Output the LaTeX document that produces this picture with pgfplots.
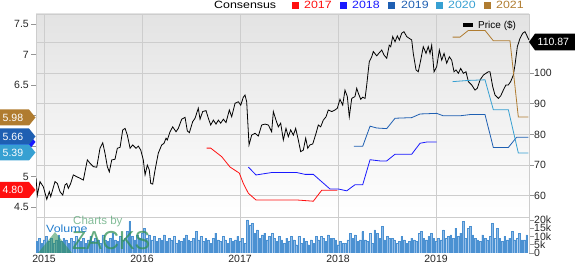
\documentclass[border=0pt]{standalone}
\usepackage{fontspec}
\setmainfont{Liberation Sans}
\newfontfamily\wideFont[FakeStretch=1.18]{Liberation Sans}
\newfontfamily\narrowFont[FakeStretch=0.9]{Liberation Sans}
\usepackage{pgfplots}
\pgfplotsset{compat=1.18}
\definecolor{c2017}{RGB}{255,15,15}
\definecolor{c2018}{RGB}{25,25,255}
\definecolor{c2019}{RGB}{30,95,178}
\definecolor{c2020}{RGB}{55,160,210}
\definecolor{c2021}{RGB}{176,124,48}
\definecolor{gridc}{RGB}{205,205,205}
\definecolor{tickc}{RGB}{150,150,150}
\definecolor{volfill}{RGB}{145,188,232}
\definecolor{voldraw}{RGB}{75,145,210}
\definecolor{zgreen}{RGB}{50,145,85}
\definecolor{volblue}{RGB}{35,125,205}
\newcommand{\tl}{\fontsize{10.5}{12}\selectfont}
\begin{document}
\begin{tikzpicture}
\useasboundingbox (0pt,0pt) rectangle (575pt,264pt);
% ---------------- volume panel
\begin{axis}[
  at={(36pt,11pt)}, anchor=south west, scale only axis,
  width=493pt, height=35pt,
  xmin=2014.918, xmax=2019.949, ymin=0, ymax=21.2,
  xtick={2015,2016,2017,2018,2019},
  xticklabels={2015,2016,2017,2018,2019},
  xmajorgrids, grid style={gridc, line width=0.9pt},
  x tick style={draw=none},
  ytick={0,5,10,15,20}, yticklabels={0,5k,10k,15k,20k},
  ytick pos=right, yticklabel pos=right,
  tick align=outside, major tick length=5pt,
  y tick style={tickc, line width=0.8pt},
  separate axis lines,
  x axis line style={draw=none},
  y axis line style={gridc, line width=0.9pt},
  xticklabel style={font=\tl, text=black!85, inner sep=0pt, yshift=3.5pt},
  yticklabel style={font=\tl, text=black!85, inner sep=0pt, anchor=west},
]
\addplot[ybar, bar width=1.7pt, fill=volfill, draw=voldraw, line width=0.3pt] coordinates {
(2014.925,7) (2014.950,9) (2014.975,6)
(2015.000,8) (2015.025,10) (2015.050,7) (2015.075,9) (2015.100,6) (2015.125,8) (2015.150,11) (2015.175,7) (2015.200,9) (2015.225,8)
(2015.250,6) (2015.275,9) (2015.300,7) (2015.325,10) (2015.350,8) (2015.375,7) (2015.400,9) (2015.425,6) (2015.450,8) (2015.475,10)
(2015.500,7) (2015.525,9) (2015.550,8) (2015.575,6) (2015.600,11) (2015.625,8) (2015.650,7) (2015.675,9) (2015.700,12) (2015.725,8)
(2015.750,7) (2015.775,10) (2015.800,8) (2015.825,9) (2015.850,13) (2015.875,19) (2015.900,10) (2015.925,8) (2015.950,11) (2015.975,9)
(2016.000,12) (2016.025,15) (2016.050,9) (2016.075,11) (2016.100,8) (2016.125,10) (2016.150,7) (2016.175,9) (2016.200,8) (2016.225,11)
(2016.250,7) (2016.275,9) (2016.300,8) (2016.325,10) (2016.350,6) (2016.375,8) (2016.400,7) (2016.425,9) (2016.450,11) (2016.475,8)
(2016.500,7) (2016.525,9) (2016.550,13) (2016.575,8) (2016.600,10) (2016.625,7) (2016.650,9) (2016.675,8) (2016.700,6) (2016.725,9)
(2016.750,12) (2016.775,8) (2016.800,7) (2016.825,10) (2016.850,8) (2016.875,6) (2016.900,9) (2016.925,7) (2016.950,8) (2016.975,10)
(2017.000,7) (2017.025,9) (2017.050,6) (2017.075,20) (2017.100,17) (2017.125,18) (2017.150,12) (2017.175,14) (2017.200,9) (2017.225,11)
(2017.250,12) (2017.275,8) (2017.300,10) (2017.325,12) (2017.350,9) (2017.375,7) (2017.400,10) (2017.425,8) (2017.450,6) (2017.475,9)
(2017.500,7) (2017.525,10) (2017.550,8) (2017.575,5) (2017.600,10) (2017.625,6) (2017.650,9) (2017.675,7) (2017.700,5) (2017.725,8)
(2017.750,6) (2017.775,10) (2017.800,8) (2017.825,10) (2017.850,9) (2017.875,7) (2017.900,11) (2017.925,9) (2017.950,9) (2017.975,8)
(2018.000,5) (2018.025,7) (2018.050,6) (2018.075,6) (2018.100,8) (2018.125,12) (2018.150,9) (2018.175,11) (2018.200,7) (2018.225,8)
(2018.250,13) (2018.275,8) (2018.300,7) (2018.325,12) (2018.350,6) (2018.375,14) (2018.400,12) (2018.425,9) (2018.450,16) (2018.475,8)
(2018.500,10) (2018.525,9) (2018.550,9) (2018.575,8) (2018.600,6) (2018.625,7) (2018.650,10) (2018.675,8) (2018.700,6) (2018.725,7)
(2018.750,9) (2018.775,8) (2018.800,7) (2018.825,12) (2018.850,13) (2018.875,9) (2018.900,8) (2018.925,10) (2018.950,12) (2018.975,9)
(2019.000,7) (2019.025,9) (2019.050,8) (2019.075,14) (2019.100,9) (2019.125,10) (2019.150,11) (2019.175,9) (2019.200,15) (2019.225,10)
(2019.250,12) (2019.275,19) (2019.300,9) (2019.325,15) (2019.350,16) (2019.375,11) (2019.400,9) (2019.425,8) (2019.450,7) (2019.475,11)
(2019.500,9) (2019.525,8) (2019.550,10) (2019.575,18) (2019.600,9) (2019.625,15) (2019.650,9) (2019.675,7) (2019.700,10) (2019.725,8)
(2019.750,9) (2019.775,13) (2019.800,8) (2019.825,9) (2019.850,12) (2019.875,8) (2019.900,8) (2019.925,11)
};
\end{axis}
% ---------------- price panel (right axis)
\begin{axis}[
  at={(36pt,47pt)}, anchor=south west, scale only axis,
  width=493pt, height=203pt,
  xmin=2014.918, xmax=2019.949, ymin=53.04, ymax=119.38,
  xtick={2015,2016,2017,2018,2019}, xticklabels={}, x tick style={draw=none},
  ytick={60,70,80,90,100,110}, yticklabels={60,70,80,90,100,},
  ytick pos=right, yticklabel pos=right,
  tick align=outside, major tick length=5pt,
  y tick style={tickc, line width=0.8pt},
  grid=major, grid style={gridc, line width=0.9pt},
  axis line style={gridc, line width=0.9pt},
  axis background/.style={top color=black!11, middle color=black!2, bottom color=white},
  yticklabel style={font=\tl, text=black!85, inner sep=0pt, anchor=west},
]
\addplot[black, line width=0.8pt] coordinates {
(2014.918,65.7) (2014.932,60.2) (2014.959,64.6) (2014.993,62.9) (2015.028,58.8) (2015.054,61.3) (2015.068,59.7) (2015.112,64.6)
(2015.136,64.0) (2015.163,61.3) (2015.191,60.2) (2015.214,63.5) (2015.232,64.0) (2015.248,62.4) (2015.272,64.0) (2015.299,66.8)
(2015.334,66.2) (2015.367,65.7) (2015.401,65.1) (2015.442,71.7) (2015.469,70.6) (2015.503,69.5) (2015.538,69.3) (2015.571,75.5)
(2015.599,77.3) (2015.622,73.9) (2015.646,69.5) (2015.666,67.8) (2015.691,71.7) (2015.724,71.9) (2015.748,75.5) (2015.776,75.8)
(2015.803,81.5) (2015.827,82.0) (2015.850,79.8) (2015.878,75.5) (2015.905,76.6) (2015.939,75.5) (2015.962,76.2) (2015.987,74.9)
(2016.013,71.7) (2016.031,66.8) (2016.054,70.0) (2016.074,68.4) (2016.089,64.0) (2016.109,63.8) (2016.133,68.4) (2016.166,73.9)
(2016.201,76.6) (2016.224,77.1) (2016.245,78.8) (2016.258,78.2) (2016.286,80.9) (2016.313,82.5) (2016.347,80.9) (2016.370,82.0)
(2016.405,85.0) (2016.439,85.6) (2016.462,81.2) (2016.483,80.6) (2016.517,84.2) (2016.541,85.3) (2016.574,88.6) (2016.592,85.0)
(2016.619,87.5) (2016.653,87.8) (2016.677,85.3) (2016.701,83.1) (2016.728,84.7) (2016.755,83.4) (2016.779,84.7) (2016.803,83.7)
(2016.830,85.0) (2016.857,83.9) (2016.891,88.0) (2016.915,85.8) (2016.949,90.2) (2016.983,90.7) (2017.007,89.6) (2017.034,92.2)
(2017.051,92.9) (2017.068,90.7) (2017.092,76.6) (2017.119,79.8) (2017.153,80.4) (2017.187,79.5) (2017.221,83.1) (2017.255,83.4)
(2017.289,83.1) (2017.323,80.9) (2017.340,87.5) (2017.367,84.7) (2017.391,82.5) (2017.415,83.7) (2017.442,78.2) (2017.469,82.0)
(2017.493,79.3) (2017.517,81.5) (2017.544,79.8) (2017.568,82.0) (2017.595,78.2) (2017.619,74.4) (2017.646,74.9) (2017.670,78.8)
(2017.691,75.5) (2017.714,76.6) (2017.742,76.9) (2017.776,80.4) (2017.799,83.1) (2017.823,82.5) (2017.850,84.7) (2017.878,85.8)
(2017.901,88.0) (2017.936,87.5) (2017.969,88.0) (2017.993,88.6) (2018.020,91.5) (2018.048,89.6) (2018.071,94.5) (2018.095,92.4)
(2018.115,85.8) (2018.140,91.8) (2018.173,92.4) (2018.191,95.1) (2018.207,93.5) (2018.232,91.5) (2018.252,92.2) (2018.276,91.8)
(2018.293,96.2) (2018.319,103.8) (2018.344,105.4) (2018.360,107.1) (2018.395,105.7) (2018.421,106.7) (2018.446,107.6) (2018.469,106.0)
(2018.497,104.9) (2018.523,109.2) (2018.538,108.7) (2018.558,112.0) (2018.582,110.3) (2018.605,112.2) (2018.626,110.9) (2018.650,113.1)
(2018.673,113.6) (2018.701,112.0) (2018.728,111.4) (2018.752,110.9) (2018.768,106.5) (2018.796,101.1) (2018.819,100.5) (2018.844,104.3)
(2018.870,108.7) (2018.898,106.5) (2018.921,108.7) (2018.939,106.5) (2018.956,109.2) (2018.980,100.5) (2019.007,102.2) (2019.034,107.6)
(2019.058,104.3) (2019.082,106.5) (2019.109,103.3) (2019.136,105.4) (2019.160,104.3) (2019.184,100.5) (2019.204,101.1) (2019.228,100.0)
(2019.252,101.6) (2019.279,100.0) (2019.306,100.5) (2019.330,97.3) (2019.364,96.2) (2019.398,94.5) (2019.421,95.1) (2019.449,97.8)
(2019.483,99.4) (2019.510,100.0) (2019.534,100.5) (2019.551,100.5) (2019.579,95.6) (2019.602,92.9) (2019.636,91.8) (2019.660,92.6)
(2019.687,94.5) (2019.714,96.2) (2019.738,96.2) (2019.762,97.3) (2019.789,99.4) (2019.806,102.7) (2019.830,108.7) (2019.857,111.4)
(2019.885,113.1) (2019.908,113.6) (2019.932,112.0) (2019.949,110.9)
};
\end{axis}
% ---------------- consensus panel (left axis)
\begin{axis}[
  at={(36pt,47pt)}, anchor=south west, scale only axis,
  width=493pt, height=203pt,
  xmin=2014.918, xmax=2019.949, ymin=4.341, ymax=7.669,
  xtick=\empty,
  ytick={4.5,5,5.5,6,6.5,7,7.5}, yticklabels={4.5,5,,,6.5,7,7.5},
  ytick pos=left, yticklabel pos=left,
  tick align=outside, major tick length=5pt,
  y tick style={tickc, line width=0.8pt},
  axis line style={draw=none},
  yticklabel style={font=\tl, text=black!85, inner sep=0pt, anchor=east, xshift=-2pt},
]
\addplot[c2017, line width=0.8pt] coordinates {
(2016.660,5.47) (2016.701,5.47) (2016.813,5.33) (2016.898,5.16) (2016.993,5.06) (2017.034,4.89) (2017.085,4.73)
(2017.163,4.62) (2017.579,4.62) (2017.748,4.60) (2017.834,4.78) (2017.993,4.78)};
\addplot[c2018, line width=0.8pt] coordinates {
(2017.085,5.16) (2017.163,5.03) (2017.323,5.07) (2017.579,5.07) (2017.663,5.04) (2017.748,5.04) (2017.918,4.80)
(2018.003,4.80) (2018.089,4.77) (2018.173,4.87) (2018.252,4.87) (2018.327,5.28) (2018.429,5.26) (2018.497,5.26)
(2018.582,5.37) (2018.752,5.37) (2018.837,5.55) (2018.905,5.57) (2019.007,5.57)};
\addplot[c2019, line width=0.8pt] coordinates {
(2018.163,5.50) (2018.252,5.50) (2018.327,5.83) (2018.395,5.80) (2018.497,5.79) (2018.582,5.96) (2018.752,5.97)
(2018.837,6.03) (2019.007,6.04) (2019.074,6.00) (2019.245,6.00) (2019.347,6.02) (2019.500,6.02) (2019.585,5.48)
(2019.738,5.48) (2019.823,5.65) (2019.942,5.65)};
\addplot[c2020, line width=0.8pt] coordinates {
(2019.170,6.56) (2019.330,6.58) (2019.500,6.59) (2019.585,6.10) (2019.738,6.10) (2019.840,5.39) (2019.942,5.39)};
\addplot[c2021, line width=0.8pt] coordinates {
(2019.170,7.29) (2019.245,7.29) (2019.330,7.40) (2019.500,7.40) (2019.585,7.23) (2019.755,7.23) (2019.840,5.98) (2019.942,5.98)};
\end{axis}
% separator between panels
\draw[gridc, line width=1.6pt] (36pt,46.6pt) -- (529pt,46.6pt);
% watermark
\fill[zgreen, opacity=0.55] (38pt,11pt) -- (55pt,32pt) -- (72pt,11pt) -- cycle;
\node[anchor=base west, inner sep=0pt, text=zgreen, opacity=0.6, font=\fontsize{11.5}{12}\selectfont] at (73pt,39pt) {Charts by};
\node[anchor=base west, inner sep=0pt, text=zgreen, opacity=0.75, font=\narrowFont\fontsize{26}{28}\selectfont] at (72pt,14pt) {ZACKS};
\node[anchor=base west, inner sep=0pt, text=volblue, font=\wideFont\fontsize{10.5}{12}\selectfont] at (46pt,31pt) {Volume};
% left value tags
\fill[c2018] (0pt,114pt) -- (29pt,114pt) -- (35.5pt,122pt) -- (29pt,130pt) -- (0pt,130pt) -- cycle;
\foreach \c/\y/\v in {c2021/146.5/5.98, c2019/127.5/5.66, c2020/111.5/5.39, c2017/74/4.80} {
  \fill[\c] (0pt,\y pt-8pt) -- (29pt,\y pt-8pt) -- (35.5pt,\y pt) -- (29pt,\y pt+8pt) -- (0pt,\y pt+8pt) -- cycle;
  \node[anchor=west, inner sep=0pt, text=white, font=\tl] at (2.5pt,\y pt) {\v};
}
% right price tag
\fill[black] (529pt,222pt) -- (535pt,230.3pt) -- (575pt,230.3pt) -- (575pt,213.7pt) -- (535pt,213.7pt) -- cycle;
\node[anchor=west, inner sep=0pt, text=white, font=\tl] at (537.5pt,222pt) {110.87};
% price legend
\fill[black] (463pt,237pt) rectangle (473pt,241pt);
\node[anchor=west, inner sep=0pt, font=\fontsize{10}{12}\selectfont] at (478pt,238.5pt) {Price (\$)};
% consensus legend
\node[anchor=west, inner sep=0pt, font=\wideFont\fontsize{10.5}{12}\selectfont] at (214pt,258.7pt) {Consensus};
\foreach \c/\xs/\xt/\t in {c2017/292/304/2017, c2018/340/352/2018, c2019/388/401/2019, c2020/436/448/2020, c2021/484/496/2021} {
  \fill[\c] (\xs pt,255.3pt) rectangle (\xs pt+7pt,262pt);
  \node[anchor=west, inner sep=0pt, text=\c, font=\wideFont\fontsize{10.5}{12}\selectfont] at (\xt pt,258.7pt) {\t};
}
\end{tikzpicture}
\end{document}
